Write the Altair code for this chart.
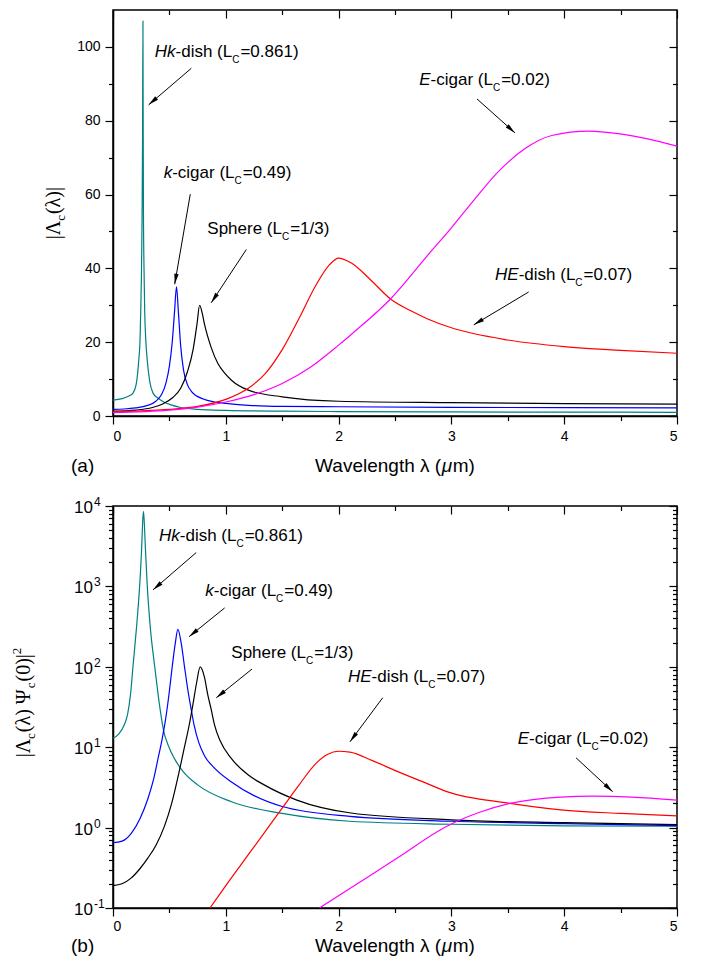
import math
import altair as alt
import pandas as pd

# ------------------------------------------------------------------ data
SERIES = ["Hk-dish", "k-cigar", "Sphere", "HE-dish", "E-cigar"]
COLORS = ["#008080", "#0000ff", "#000000", "#ff0000", "#ff00ff"]

# panel (a): |Lambda_c(lambda)|
HK_A_X = [0, 0.08, 0.14, 0.177, 0.205, 0.228, 0.24, 0.246, 0.253, 0.258, 0.262, 0.2655, 0.267, 0.27, 0.275,
          0.281, 0.29, 0.304, 0.325, 0.355, 0.4, 0.45, 0.515, 0.6, 0.75, 1.0, 1.5, 2.0, 3.0, 4.0, 5.0]
HK_A_Y = [4.3, 4.7, 5.4, 6.2, 8.5, 15, 21, 28.5, 40, 55, 75, 107, 85, 55, 40,
          28.5, 21, 15, 9.5, 6.2, 4.8, 3.8, 3.0, 2.3, 1.8, 1.5, 1.3, 1.2, 1.1, 1.05, 1.0]
KC_A_X = [0, 0.1, 0.2, 0.3, 0.38, 0.43, 0.47, 0.5, 0.525, 0.545, 0.563, 0.58, 0.6, 0.625, 0.66, 0.7, 0.8,
          0.9, 1.0, 1.2, 1.5, 2.0, 3.0, 4.0, 5.0]
KC_A_Y = [1.8, 1.9, 2.2, 2.8, 4.0, 5.8, 9.0, 13.5, 20, 28, 35, 28, 19, 12.5, 8.5, 6.5, 4.6,
          3.8, 3.4, 2.9, 2.6, 2.5, 2.35, 2.25, 2.2]
SP_A_X = [0, 0.2, 0.35, 0.45, 0.53, 0.6, 0.66, 0.71, 0.745, 0.768, 0.79, 0.81, 0.87, 0.93, 0.99, 1.05,
          1.2, 1.5, 2.0, 3.0, 4.0, 5.0]
SP_A_Y = [1.3, 1.6, 2.3, 3.4, 5.0, 7.5, 12, 18, 25, 30, 28, 25, 18.6, 14.2, 11.6, 9.7,
          7.0, 5.2, 4.0, 3.6, 3.35, 3.2]
HE_A_X = [0, 0.25, 0.5, 0.75, 1.0, 1.2, 1.35, 1.5, 1.65, 1.8, 1.92, 2.0, 2.11, 2.28, 2.46, 2.64, 2.79,
          3.0, 3.5, 4.0, 4.5, 5.0]
HE_A_Y = [1.2, 1.4, 1.8, 2.6, 4.5, 7.5, 11.5, 18, 26.5, 35.5, 41, 42.8, 41.5, 37, 31.7, 28.5, 26.3,
          23.9, 20.6, 18.8, 17.8, 17.0]
EC_A_X = [0, 0.5, 0.75, 1.0, 1.25, 1.5, 1.75, 2.0, 2.12, 2.46, 2.83, 3.0, 3.2, 3.41, 3.65, 3.89, 4.22,
          4.48, 4.75, 5.0]
EC_A_Y = [0.9, 1.6, 2.4, 3.8, 5.8, 8.8, 13.2, 19.2, 22.3, 31.7, 45, 51, 58.5, 66, 72.4, 76, 77.2,
          76.5, 75, 73.1]

# panel (b): |Lambda_c(lambda) Psi_c(0)|^2
HK_B_X = [0, 0.05, 0.1, 0.13, 0.155, 0.177, 0.206, 0.236, 0.253, 0.262, 0.27, 0.278, 0.287, 0.304, 0.33,
          0.37, 0.40, 0.449, 0.49, 0.55, 0.62, 0.75, 1.05, 1.5, 2.1, 3.0, 4.0, 5.0]
HK_B_Y = [12.9, 14.5, 19, 26, 45, 100, 282, 1000, 2800, 5900, 8600, 6000, 3000, 1000, 316,
          100, 45, 16, 10.5, 7.0, 5.0, 3.4, 2.1, 1.5, 1.2, 1.1, 1.05, 1.04]
KC_B_X = [0, 0.08, 0.162, 0.24, 0.31, 0.36, 0.4, 0.43, 0.457, 0.475, 0.5, 0.525, 0.552, 0.575, 0.605,
          0.634, 0.665, 0.693, 0.72, 0.76, 0.81, 0.9, 1.05, 1.25, 1.5, 2.1, 3.0, 4.0, 5.0]
KC_B_Y = [0.65, 0.68, 0.85, 1.3, 2.3, 4.0, 7.3, 11.5, 18.5, 27, 50, 100, 196, 292, 196,
          100, 50, 29.7, 18.5, 11.5, 7.9, 5.5, 3.7, 2.5, 1.83, 1.38, 1.2, 1.12, 1.06]
SP_B_X = [0, 0.08, 0.16, 0.24, 0.31, 0.38, 0.457, 0.52, 0.575, 0.63, 0.679, 0.71, 0.74, 0.773, 0.81,
          0.84, 0.87, 0.9, 0.95, 1.047, 1.2, 1.34, 1.63, 2.11, 3.0, 4.0, 5.0]
SP_B_Y = [0.19, 0.2, 0.235, 0.31, 0.42, 0.6, 1.05, 2.0, 4.2, 9.5, 20, 35, 62, 100, 75,
          45, 29.7, 19, 12, 7.3, 4.5, 3.4, 2.2, 1.52, 1.25, 1.15, 1.09]
HE_B_X = [0.86, 1.0, 1.24, 1.49, 1.65, 1.8, 1.9, 2.0, 2.1, 2.3, 2.52, 2.75, 2.96, 3.52, 3.97, 4.5, 5.0]
HE_B_Y = [0.1, 0.19, 0.55, 1.67, 3.4, 6.3, 8.1, 8.9, 8.7, 6.8, 5.0, 3.7, 2.8, 2.0, 1.66, 1.5, 1.4]
EC_B_X = [1.83, 2.1, 2.52, 2.96, 3.25, 3.52, 3.97, 4.25, 4.6, 5.0]
EC_B_Y = [0.1, 0.175, 0.418, 1.04, 1.55, 2.0, 2.4, 2.46, 2.4, 2.2]

# axis ticks
X_MAJOR = [0, 1, 2, 3, 4, 5]
X_MINOR = [0.5, 1.5, 2.5, 3.5, 4.5]
YA_MAJOR = [0, 20, 40, 60, 80, 100]
YA_MINOR = [10, 30, 50, 70, 90]
YB_MAJOR = [0.1, 1, 10, 100, 1000, 10000]
YB_EXP = ["-1", "0", "1", "2", "3", "4"]
YB_MINOR = [m * 10 ** k for k in range(-1, 4) for m in range(2, 10)]

# annotation segments: (text, style)  n = normal, i = italic, s = subscript
SEG_HK = [("Hk", "i"), ("-dish (L", "n"), ("C", "s"), ("=0.861)", "n")]
SEG_KC = [("k", "i"), ("-cigar (L", "n"), ("C", "s"), ("=0.49)", "n")]
SEG_SP = [("Sphere (L", "n"), ("C", "s"), ("=1/3)", "n")]
SEG_HE = [("HE", "i"), ("-dish (L", "n"), ("C", "s"), ("=0.07)", "n")]
SEG_EC = [("E", "i"), ("-cigar (L", "n"), ("C", "s"), ("=0.02)", "n")]

# label anchor (x, y) in data units, arrow (x1, y1) -> tip (x2, y2) in data units
ANN_A = [
    (0.370, 97.4, SEG_HK, (0.694, 94.2, 0.316, 84.3)),
    (0.449, 64.6, SEG_KC, (0.685, 60.1, 0.547, 35.7)),
    (0.836, 49.3, SEG_SP, (1.182, 45.1, 0.871, 30.7)),
    (3.387, 36.8, SEG_HE, (3.685, 33.6, 3.198, 24.7)),
    (2.715, 89.8, SEG_EC, (3.227, 85.9, 3.564, 76.7)),
]
ANN_B = [
    (0.408, 3673, SEG_HK, (0.738, 2636, 0.355, 906)),
    (0.818, 757, SEG_KC, (0.990, 540, 0.674, 237)),
    (1.049, 128, SEG_SP, (1.232, 93.7, 0.916, 41.2)),
    (2.083, 64.3, SEG_HE, (2.391, 41.2, 2.101, 11.7)),
    (3.588, 11.0, SEG_EC, (4.105, 7.38, 4.43, 2.79)),
]

XTITLE = [("Wavelength \u03bb (", "ttl_n"), ("\u03bc", "ttl_i"), ("m)", "ttl_n")]
YTITLE_A = [("|\u039b", "yt_n"), ("c", "yt_s"), ("(\u03bb)|", "yt_n")]
YTITLE_B = [("|\u039b", "yt_n"), ("c", "yt_s"), ("(\u03bb) \u03a8", "yt_n"), ("c", "yt_s"),
            ("(0)|", "yt_n"), ("2", "yt_p")]

# ------------------------------------------------------------------ layout
W = 564
HA = 406
HB = 402
YA_MAX = 110.0
LOG_LO, LOG_HI = -1.0, 4.0
SANS = "Liberation Sans"
SERIF = "Liberation Serif"

SANS_W = {' ': 278, '(': 333, ')': 333, '-': 333, '.': 278, '/': 278, '=': 584, 'C': 722, 'E': 667,
          'H': 722, 'L': 556, 'S': 667, 'W': 944, 'a': 556, 'b': 556, 'c': 500, 'd': 556, 'e': 556,
          'g': 556, 'h': 556, 'i': 222, 'k': 500, 'l': 222, 'm': 833, 'n': 556, 'p': 556, 'r': 333,
          's': 500, 't': 278, 'v': 500, '\u03bb': 500, '\u03bc': 576}
SERIF_W = {'|': 200, '\u039b': 722, 'c': 444, '(': 333, ')': 333, '\u03bb': 500, ' ': 250,
           '\u03a8': 780, '0': 500, '2': 500}

STYLES = {
    "lab_n": dict(font=SANS, fontSize=17),
    "lab_i": dict(font=SANS, fontSize=17, fontStyle="italic"),
    "lab_s": dict(font=SANS, fontSize=10, dy=6),
    "ttl_n": dict(font=SANS, fontSize=19),
    "ttl_i": dict(font=SANS, fontSize=19, fontStyle="italic"),
    "yt_n": dict(font=SERIF, fontSize=20, angle=270),
    "yt_s": dict(font=SERIF, fontSize=13, angle=270, dy=5),
    "yt_p": dict(font=SERIF, fontSize=13, angle=270, dy=-9),
}


def tw(text, key):
    table = SERIF_W if STYLES[key]["font"] == SERIF else SANS_W
    w = sum(table.get(ch, 556) for ch in text) * STYLES[key]["fontSize"] / 1000.0
    if key.endswith("_s") or key.endswith("_p"):
        w += 1.0
    return w


def px2x(px):
    return px / W * 5.0


def ya_px(y):
    return (1 - y / YA_MAX) * HA


def ya_data(py):
    return (1 - py / HA) * YA_MAX


def yb_px(y):
    return (LOG_HI - math.log10(y)) / (LOG_HI - LOG_LO) * HB


def yb_data(py):
    return 10 ** (LOG_HI - py / HB * (LOG_HI - LOG_LO))


XS = alt.Scale(domain=[0, 5], nice=False, zero=False)
YSA = alt.Scale(domain=[0, YA_MAX], nice=False, zero=False)
YSB = alt.Scale(type="log", domain=[0.1, 10000], nice=False)

HEAD = "M0,0L-0.42,2L0.42,2Z"


def lines_df(pairs):
    rows = []
    for name, xs, ys in pairs:
        for x, y in zip(xs, ys):
            rows.append({"series": name, "x": x, "y": y})
    return pd.DataFrame(rows)


def texts_for(ann, ydata, H, xtitle_below, letter, ytitle, ytitle_base, ytitle_center):
    rows = []
    for x0, y0, segs, _ in ann:
        px = 0.0
        for text, st in segs:
            key = "lab_" + st
            rows.append({"x": x0 + px2x(px), "y": y0, "t": text, "k": key})
            px += tw(text, key)
    # x-axis title, centred under the plot
    total = sum(tw(t, k) for t, k in XTITLE)
    px = W / 2 - total / 2
    for t, k in XTITLE:
        rows.append({"x": px2x(px), "y": ydata(H + xtitle_below), "t": t, "k": k})
        px += tw(t, k)
    # panel letter
    rows.append({"x": px2x(-42), "y": ydata(H + xtitle_below), "t": letter, "k": "ttl_n"})
    # rotated y title, running upward
    total = sum(tw(t, k) for t, k in ytitle)
    py = ytitle_center + total / 2
    for t, k in ytitle:
        rows.append({"x": px2x(ytitle_base), "y": ydata(py), "t": t, "k": k})
        py -= tw(t, k)
    return pd.DataFrame(rows)


def arrows_for(ann, ypx):
    rows = []
    for _, _, _, (x1, y1, x2, y2) in ann:
        dx = (x2 - x1) * W / 5.0
        dy = ypx(y2) - ypx(y1)
        ang = math.degrees(math.atan2(dx, -dy)) % 360
        rows.append({"x": x1, "y": y1, "x2": x2, "y2": y2, "ang": ang})
    return pd.DataFrame(rows)


def axis(orient, values, size, labels=False, offset=None, domain=False, fmt=None, pad=5):
    kw = dict(orient=orient, values=values, tickSize=size, labels=labels, domain=domain,
              grid=False, title=None, ticks=True)
    if offset is not None:
        kw["offset"] = offset
    if labels:
        kw["labelPadding"] = pad
        kw["format"] = fmt
    return alt.Axis(**kw)


def build_panel(df, yscale, H, ymaj, ymin, ylabels, texts, arrows, extra=(), xpad=5):
    anchor = pd.DataFrame({"x": [1.0], "y": [1.0]})
    layers = []
    layers.append(
        alt.Chart(df).mark_line(strokeWidth=1.2, interpolate="monotone", clip=True).encode(
            x=alt.X("x:Q", scale=XS, axis=axis("bottom", X_MAJOR, 8, True, domain=True, fmt="d", pad=xpad)),
            y=alt.Y("y:Q", scale=yscale, axis=axis("left", ymaj, 8, ylabels, domain=True, fmt="d")),
            color=alt.Color("series:N", scale=alt.Scale(domain=SERIES, range=COLORS), legend=None),
        )
    )
    specs = [
        (axis("bottom", X_MINOR, 4.5), axis("left", ymin, 4.5)),
        (axis("bottom", X_MAJOR, 8, offset=-H), axis("left", ymaj, 8, offset=-W)),
        (axis("bottom", X_MINOR, 4.5, offset=-H), axis("left", ymin, 4.5, offset=-W)),
    ]
    for xa, ya in specs:
        layers.append(
            alt.Chart(anchor).mark_point(opacity=0).encode(
                x=alt.X("x:Q", scale=XS, axis=xa), y=alt.Y("y:Q", scale=yscale, axis=ya)
            )
        )
    layers.append(
        alt.Chart(arrows).mark_rule(color="black", strokeWidth=1).encode(
            x=alt.X("x:Q", scale=XS, axis=None), y=alt.Y("y:Q", scale=yscale, axis=None),
            x2="x2:Q", y2="y2:Q")
    )
    layers.append(
        alt.Chart(arrows).mark_point(shape=HEAD, filled=True, color="black", opacity=1, size=110,
                                     strokeWidth=0).encode(
            x=alt.X("x2:Q", scale=XS, axis=None), y=alt.Y("y2:Q", scale=yscale, axis=None),
            angle=alt.Angle("ang:Q", scale=None))
    )
    for key, props in STYLES.items():
        sub = texts[texts["k"] == key]
        if sub.empty:
            continue
        layers.append(
            alt.Chart(sub).mark_text(align="left", baseline="alphabetic", color="black", **props).encode(
                x=alt.X("x:Q", scale=XS, axis=None), y=alt.Y("y:Q", scale=yscale, axis=None),
                text="t:N")
        )
    layers.extend(extra)
    return alt.layer(*layers).resolve_axis(x="independent", y="independent").properties(
        width=W, height=H)


# panel (a)
df_a = lines_df([("Hk-dish", HK_A_X, HK_A_Y), ("k-cigar", KC_A_X, KC_A_Y), ("Sphere", SP_A_X, SP_A_Y),
                 ("HE-dish", HE_A_X, HE_A_Y), ("E-cigar", EC_A_X, EC_A_Y)])
tx_a = texts_for(ANN_A, ya_data, HA, 56, "(a)", YTITLE_A, -53, HA / 2)
ar_a = arrows_for(ANN_A, ya_px)
panel_a = build_panel(df_a, YSA, HA, YA_MAJOR, YA_MINOR, True, tx_a, ar_a)

# panel (b)
df_b = lines_df([("Hk-dish", HK_B_X, HK_B_Y), ("k-cigar", KC_B_X, KC_B_Y), ("Sphere", SP_B_X, SP_B_Y),
                 ("HE-dish", HE_B_X, HE_B_Y), ("E-cigar", EC_B_X, EC_B_Y)])
tx_b = texts_for(ANN_B, yb_data, HB, 44, "(b)", YTITLE_B, -83, HB / 2 - 5)
ar_b = arrows_for(ANN_B, yb_px)
dec = pd.DataFrame({"y": YB_MAJOR, "base": ["10"] * len(YB_MAJOR), "exp": YB_EXP})
log_labels = [
    alt.Chart(dec).mark_text(align="left", baseline="middle", font=SANS, fontSize=17, dy=2,
                             color="black").encode(
        x=alt.value(-39), y=alt.Y("y:Q", scale=YSB, axis=None), text="base:N"),
    alt.Chart(dec).mark_text(align="left", baseline="middle", font=SANS, fontSize=12, dy=-4,
                             color="black").encode(
        x=alt.value(-19), y=alt.Y("y:Q", scale=YSB, axis=None), text="exp:N"),
]
panel_b = build_panel(df_b, YSB, HB, YB_MAJOR, YB_MINOR, False, tx_b, ar_b, log_labels, xpad=3)

chart = alt.vconcat(panel_a, panel_b, spacing=90, bounds="flush").properties(
    padding={"left": 2, "top": 0, "right": 2, "bottom": 0}, background="white"
).configure_view(stroke="black", strokeWidth=1.5).configure_axis(
    labelFont=SANS, labelFontSize=14, labelColor="black", tickColor="black", domainColor="black",
    tickWidth=1.2, domainWidth=1.5
)

chart.save("out.html", embed_options={"renderer": "svg", "actions": False})
